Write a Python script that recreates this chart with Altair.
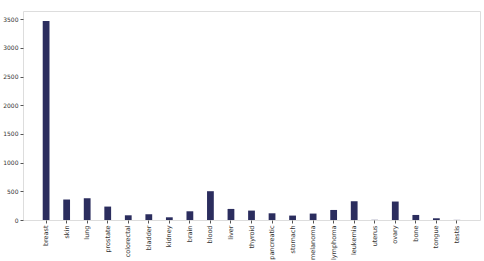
import altair as alt
import pandas as pd

categories = ["breast", "skin", "lung", "prostate", "colorectal", "bladder", "kidney",
              "brain", "blood", "liver", "thyroid", "pancreatic", "stomach", "melanoma",
              "lymphoma", "leukemia", "uterus", "ovary", "bone", "tongue", "testis"]
counts = [3470, 357, 380, 234, 82, 100, 47, 152, 502, 193, 164, 117, 77, 112, 175,
          327, 3, 322, 88, 30, 2]
y_ticks = [0, 500, 1000, 1500, 2000, 2500, 3000, 3500]

df = pd.DataFrame({"category": categories, "count": counts})

chart = alt.Chart(df).mark_bar(color="#2b2d5e").encode(
    x=alt.X("category:N", sort=categories, title=None,
            scale=alt.Scale(paddingInner=0.67, paddingOuter=0.96),
            axis=alt.Axis(labelAngle=270, labelFontSize=6.5, labelColor="#333",
                          tickColor="#555", tickSize=3, domain=False, labelPadding=2)),
    y=alt.Y("count:Q", title=None,
            scale=alt.Scale(domain=[0, 3643], nice=False),
            axis=alt.Axis(values=y_ticks, format="d", labelFontSize=6, labelColor="#333",
                          tickColor="#555", tickSize=3, grid=False, domain=False,
                          labelPadding=2)),
).properties(
    width=457, height=209,
    autosize=alt.AutoSizeParams(type="none"),
    padding={"left": 23, "top": 11, "right": 4, "bottom": 41},
).configure_view(
    stroke="#9a9a9a", strokeWidth=1.3
).configure(font="DejaVu Sans", background="white")

chart.save("out.html", embed_options={"renderer": "svg", "actions": False})
